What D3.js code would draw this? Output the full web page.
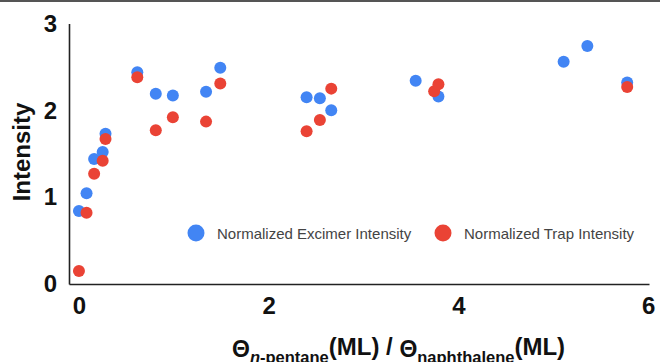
<!DOCTYPE html>
<html>
<head>
<meta charset="utf-8">
<script src="https://cdn.jsdelivr.net/npm/d3@7"></script>
<style>
  body { margin: 0; background: #fff; }
  svg { display: block; }
</style>
</head>
<body>
<div id="chart-area"></div>
<script>
var width = 660;
var height = 362;

// values
var excimerX = [0, 0.08, 0.16, 0.25, 0.28, 0.615, 0.81, 0.99, 1.34, 1.49, 2.40, 2.54, 2.66, 3.55, 3.79, 5.11, 5.36, 5.78];
var excimerY = [0.84, 1.045, 1.44, 1.52, 1.73, 2.44, 2.19, 2.17, 2.215, 2.49, 2.15, 2.14, 2.00, 2.34, 2.16, 2.56, 2.74, 2.32];
var trapX = [0, 0.08, 0.16, 0.25, 0.28, 0.615, 0.81, 0.99, 1.34, 1.49, 2.40, 2.54, 2.66, 3.745, 3.79, 5.78];
var trapY = [0.15, 0.82, 1.27, 1.42, 1.67, 2.38, 1.77, 1.92, 1.87, 2.31, 1.76, 1.89, 2.25, 2.22, 2.30, 2.27];
var xTicks = [0, 2, 4, 6];
var yTicks = [0, 1, 2, 3];
var seriesNames = ["Normalized Excimer Intensity", "Normalized Trap Intensity"];
var seriesColors = ["#4285F4", "#EA4335"];

var svg = d3.select("#chart-area")
  .append("svg")
  .attr("width", width)
  .attr("height", height);

// thin frame line along the top
svg.append("line")
  .attr("x1", 0).attr("x2", width)
  .attr("y1", 1).attr("y2", 1)
  .attr("stroke", "#555")
  .attr("stroke-width", 2);

var x = d3.scaleLinear().domain([-0.105, 6.01]).range([69, 649]);
var y = d3.scaleLinear().domain([0, 3]).range([284, 23.5]);

var xAxis = d3.axisBottom(x).tickValues(xTicks).tickFormat(d3.format("d")).tickSize(0).tickPadding(12.5);
var yAxis = d3.axisLeft(y).tickValues(yTicks).tickFormat(d3.format("d")).tickSize(0).tickPadding(12);

var xAxisGroup = svg.append("g")
  .attr("transform", "translate(0," + y(0) + ")")
  .call(xAxis);
var yAxisGroup = svg.append("g")
  .attr("transform", "translate(" + x.range()[0] + ",0)")
  .call(yAxis);

[xAxisGroup, yAxisGroup].forEach(function(g) {
  g.select(".domain").attr("stroke", "#222").attr("stroke-width", 1.6);
  g.selectAll(".tick text")
    .attr("fill", "#111")
    .attr("font-family", "Liberation Sans, Arial, sans-serif")
    .attr("font-weight", "bold")
    .attr("font-size", "24px");
});

// y label
svg.append("text")
  .attr("transform", "translate(30,152) rotate(-90)")
  .attr("text-anchor", "middle")
  .attr("font-family", "Liberation Sans, Arial, sans-serif")
  .attr("font-weight", "bold")
  .attr("font-size", "24px")
  .attr("fill", "#111")
  .text("Intensity");

// x label with subscripts
var xt = svg.append("text")
  .attr("x", 232)
  .attr("y", 356)
  .attr("font-family", "Liberation Sans, Arial, sans-serif")
  .attr("font-weight", "bold")
  .attr("fill", "#111");
xt.append("tspan").attr("font-size", "23px").attr("y", 357).text("Θ");
xt.append("tspan").attr("font-size", "16.5px").attr("y", 363).attr("font-style", "italic").text("n");
xt.append("tspan").attr("font-size", "16.5px").attr("y", 363).text("-pentane");
xt.append("tspan").attr("font-size", "24px").attr("y", 355).text("(ML) / ");
xt.append("tspan").attr("font-size", "23px").attr("y", 357).text("Θ");
xt.append("tspan").attr("font-size", "16.5px").attr("y", 363).text("naphthalene");
xt.append("tspan").attr("font-size", "24px").attr("y", 355).text("(ML)");

// points
var excimer = excimerX.map(function(d, i) { return {x: d, y: excimerY[i]}; });
var trap = trapX.map(function(d, i) { return {x: d, y: trapY[i]}; });

[excimer, trap].forEach(function(data, k) {
  svg.append("g").selectAll("circle")
    .data(data)
    .enter().append("circle")
    .attr("cx", function(d) { return x(d.x); })
    .attr("cy", function(d) { return y(d.y); })
    .attr("r", 6)
    .attr("fill", seriesColors[k]);
});

// legend
var legendX = [196, 443];
seriesNames.forEach(function(name, k) {
  svg.append("circle")
    .attr("cx", legendX[k]).attr("cy", 233)
    .attr("r", 8.5)
    .attr("fill", seriesColors[k]);
  svg.append("text")
    .attr("x", legendX[k] + 21).attr("y", 238.5)
    .attr("font-family", "Liberation Sans, Arial, sans-serif")
    .attr("font-size", "15px")
    .attr("fill", "#444")
    .text(name);
});
</script>
</body>
</html>
